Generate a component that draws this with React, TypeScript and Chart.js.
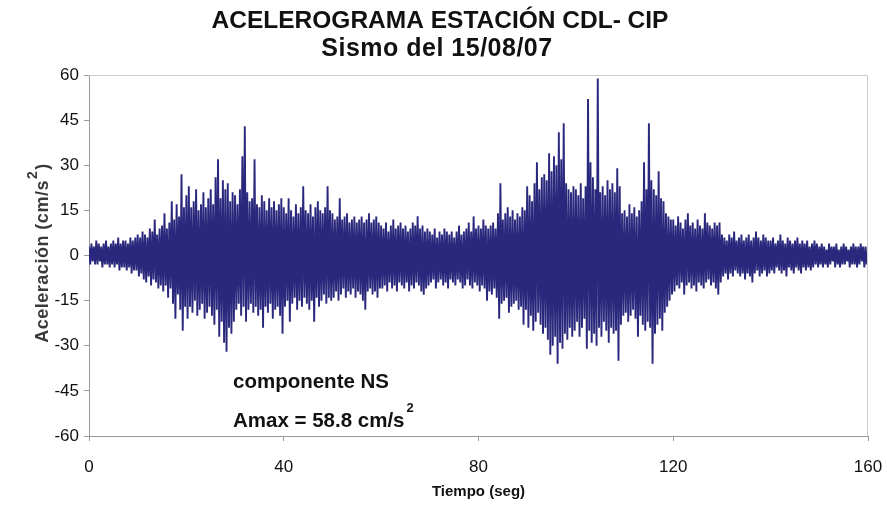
import { useEffect, useRef } from "react";
import { Chart, registerables } from "chart.js";

Chart.register(...registerables);

const TITLE = "ACELEROGRAMA ESTACIÓN CDL- CIP";
const SUBTITLE = "Sismo del 15/08/07";
const Y_TITLE = "Aceleración (cm/s";
const Y_TITLE_END = ")";
const X_TITLE = "Tiempo (seg)";
const NOTE_COMPONENT = "componente NS";
const NOTE_AMAX = "Amax = 58.8 cm/s";
const SQUARED = "2";

const X_MIN = 0;
const X_MAX = 160;
const X_STEP = 40;
const Y_MIN = -60;
const Y_MAX = 60;
const Y_STEP = 15;

// Seconds between successive positive peaks; each negative peak sits halfway between.
const PEAK_SPACING = 0.5;

// Positive acceleration peaks (cm/s²), one every 0.5 s from t = 0 s.
const POS_PEAKS = [
  3, 4, 3, 5, 4, 3, 4, 5, 3, 4, 5, 4, 6, 4, 5, 5, 4, 6, 5, 6,
  7, 6, 8, 7, 6, 9, 8, 12, 7, 9, 10, 14, 9, 11, 18, 12, 17, 13, 27, 16,
  20, 23, 16, 18, 22, 15, 17, 21, 16, 19, 22, 17, 26, 32, 19, 25, 22, 24, 18, 21,
  20, 17, 22, 33, 43, 21, 18, 19, 32, 17, 16, 20, 18, 15, 19, 16, 18, 15, 17, 19,
  16, 14, 19, 15, 13, 17, 14, 16, 23, 15, 14, 17, 13, 16, 18, 15, 14, 16, 23, 15,
  14, 12, 13, 19, 12, 13, 14, 11, 12, 13, 11, 12, 13, 11, 12, 14, 11, 12, 13, 11,
  10, 9, 11, 8, 10, 12, 9, 10, 11, 9, 10, 8, 9, 11, 10, 13, 9, 10, 8, 9,
  8, 7, 9, 6, 8, 7, 9, 8, 7, 8, 6, 8, 10, 7, 8, 9, 11, 8, 13, 9,
  10, 9, 12, 10, 9, 10, 11, 9, 14, 24, 12, 14, 16, 13, 15, 12, 14, 13, 16, 15,
  23, 20, 18, 24, 31, 22, 26, 27, 25, 34, 28, 33, 30, 41, 32, 44, 24, 22, 21, 23,
  22, 20, 24, 19, 23, 52, 31, 26, 22, 58.8, 21, 23, 20, 25, 22, 24, 21, 29, 23, 14,
  15, 13, 17, 14, 16, 13, 15, 18, 31, 22, 44, 25, 22, 20, 28, 19, 18, 14, 13, 12,
  12, 10, 13, 11, 9, 12, 14, 10, 11, 9, 12, 10, 9, 14, 11, 10, 9, 11, 10, 11,
  7, 6, 5, 7, 6, 8, 5, 6, 7, 5, 6, 7, 5, 6, 8, 6, 5, 7, 6, 5,
  5, 6, 4, 5, 7, 5, 4, 6, 5, 4, 5, 6, 4, 5, 4, 5, 3, 4, 5, 4,
  3, 4, 3, 2, 4, 3, 3, 4, 2, 3, 4, 3, 2, 3, 4, 3, 3, 4, 3, 3,
];

// Negative acceleration peaks (cm/s²), one every 0.5 s from t = 0.25 s.
const NEG_PEAKS = [
  -3, -2, -3, -3, -2, -4, -3, -3, -4, -3, -4, -3, -5, -4, -4, -5, -4, -6, -5, -5,
  -7, -6, -8, -9, -7, -10, -8, -9, -11, -10, -12, -10, -14, -11, -16, -21, -13, -18, -25, -17,
  -21, -17, -19, -15, -20, -18, -16, -21, -19, -17, -20, -23, -18, -27, -22, -29, -32, -24, -26, -22,
  -18, -16, -20, -17, -22, -18, -16, -19, -17, -20, -18, -24, -17, -19, -16, -21, -18, -17, -20, -26,
  -17, -15, -22, -16, -14, -18, -15, -17, -14, -16, -18, -15, -22, -14, -17, -15, -13, -16, -14, -15,
  -14, -12, -15, -13, -11, -14, -12, -13, -11, -14, -12, -13, -15, -18, -12, -11, -13, -12, -14, -11,
  -11, -10, -12, -9, -11, -10, -12, -9, -10, -11, -9, -12, -10, -11, -9, -10, -12, -13, -11, -10,
  -9, -8, -11, -9, -8, -10, -9, -11, -8, -9, -10, -8, -9, -11, -10, -8, -10, -11, -9, -10,
  -12, -10, -11, -15, -12, -13, -11, -14, -21, -16, -15, -14, -19, -17, -16, -15, -18, -17, -23, -18,
  -24, -20, -25, -22, -19, -23, -26, -24, -28, -33, -30, -27, -36, -29, -31, -26, -28, -24, -27, -25,
  -22, -27, -24, -21, -31, -25, -29, -26, -30, -24, -27, -22, -25, -29, -24, -26, -25, -35, -23, -20,
  -19, -22, -20, -18, -21, -27, -20, -23, -25, -22, -24, -36, -26, -23, -21, -25, -19, -17, -15, -13,
  -12, -10, -11, -9, -13, -10, -9, -11, -10, -12, -9, -10, -11, -9, -8, -10, -9, -11, -13, -9,
  -7, -6, -8, -6, -7, -5, -6, -7, -6, -8, -6, -7, -9, -6, -5, -7, -6, -5, -7, -6,
  -5, -6, -4, -5, -6, -5, -7, -4, -5, -6, -4, -5, -6, -4, -5, -4, -5, -4, -3, -4,
  -3, -4, -3, -4, -3, -2, -4, -3, -4, -3, -3, -2, -4, -3, -3, -4, -3, -2, -4, -3,
];

const FONT = "'Liberation Sans', Arial, Helvetica, sans-serif";
const TRACE_COLOR = "#2a287c";
const AXIS_COLOR = "#9a9a9a";
const FRAME_COLOR = "#cdcdcd";

function buildTrace() {
  const pts: { x: number; y: number }[] = [];
  POS_PEAKS.forEach((p, i) => {
    const t = i * PEAK_SPACING;
    pts.push({ x: t, y: p });
    pts.push({ x: t + PEAK_SPACING / 2, y: NEG_PEAKS[i] });
  });
  return pts;
}

const decorations = {
  id: "decorations",
  afterDraw(chart: any) {
    const { ctx, chartArea: a } = chart;
    ctx.save();

    // light frame on top and right of the plot area
    ctx.strokeStyle = FRAME_COLOR;
    ctx.lineWidth = 1;
    ctx.beginPath();
    ctx.moveTo(a.left, a.top + 0.5);
    ctx.lineTo(a.right - 0.5, a.top + 0.5);
    ctx.lineTo(a.right - 0.5, a.bottom);
    ctx.stroke();

    // titles
    ctx.fillStyle = "#111";
    ctx.textAlign = "center";
    ctx.textBaseline = "middle";
    ctx.font = `bold 24.5px ${FONT}`;
    ctx.fillText(TITLE, 440, 21);
    ctx.font = `bold 25px ${FONT}`;
    ctx.letterSpacing = "0.5px";
    ctx.fillText(SUBTITLE, 437, 49);
    ctx.letterSpacing = "0px";

    // x axis title
    ctx.font = `bold 15px ${FONT}`;
    ctx.fillText(X_TITLE, (a.left + a.right) / 2, 492);

    // y axis title with superscript
    ctx.save();
    ctx.translate(43, 254);
    ctx.rotate(-Math.PI / 2);
    ctx.fillStyle = "#3a3a3a";
    ctx.letterSpacing = "0.5px";
    const mainFont = `bold 18px ${FONT}`;
    const supFont = `bold 14px ${FONT}`;
    ctx.font = mainFont;
    const w1 = ctx.measureText(Y_TITLE).width;
    const w3 = ctx.measureText(Y_TITLE_END).width;
    ctx.font = supFont;
    const w2 = ctx.measureText(SQUARED).width;
    const x0 = -(w1 + w2 + w3) / 2;
    ctx.textAlign = "left";
    ctx.font = mainFont;
    ctx.fillText(Y_TITLE, x0, 0);
    ctx.font = supFont;
    ctx.fillText(SQUARED, x0 + w1 + 1, -10);
    ctx.font = mainFont;
    ctx.fillText(Y_TITLE_END, x0 + w1 + w2 + 2, 0);
    ctx.letterSpacing = "0px";
    ctx.restore();

    // notes inside the plot
    ctx.fillStyle = "#111";
    ctx.textAlign = "left";
    ctx.textBaseline = "alphabetic";
    ctx.font = `bold 20.5px ${FONT}`;
    ctx.fillText(NOTE_COMPONENT, 233, 388);
    ctx.fillText(NOTE_AMAX, 233, 427);
    const wA = ctx.measureText(NOTE_AMAX).width;
    ctx.font = `bold 13px ${FONT}`;
    ctx.fillText(SQUARED, 233 + wA + 2, 412);

    ctx.restore();
  },
};

export default function App() {
  const canvasRef = useRef<HTMLCanvasElement>(null);

  useEffect(() => {
    document.body.style.margin = "0";
    const canvas = canvasRef.current;
    if (!canvas) return;

    const chart = new Chart(canvas, {
      type: "line",
      data: {
        datasets: [
          {
            data: buildTrace(),
            borderColor: TRACE_COLOR,
            borderWidth: 1.9,
            pointRadius: 0,
            fill: false,
            tension: 0,
          },
        ],
      },
      options: {
        responsive: false,
        animation: false,
        events: [],
        layout: { padding: { top: 75, right: 19, left: 0, bottom: 0 } },
        plugins: {
          legend: { display: false },
          tooltip: { enabled: false },
          title: { display: false },
        },
        scales: {
          x: {
            type: "linear",
            min: X_MIN,
            max: X_MAX,
            afterFit: (s: any) => {
              s.height = 70;
              s.paddingLeft = 0;
              s.paddingRight = 0;
            },
            ticks: {
              stepSize: X_STEP,
              autoSkip: false,
              color: "#111",
              font: { family: FONT, size: 17 },
              padding: 16,
              maxRotation: 0,
            },
            grid: {
              display: true,
              drawOnChartArea: false,
              drawTicks: true,
              tickLength: 5,
              color: AXIS_COLOR,
            },
            border: { display: true, color: AXIS_COLOR },
          },
          y: {
            type: "linear",
            min: Y_MIN,
            max: Y_MAX,
            afterFit: (s: any) => {
              s.width = 89;
            },
            ticks: {
              stepSize: Y_STEP,
              autoSkip: false,
              color: "#111",
              font: { family: FONT, size: 17 },
              padding: 5,
            },
            grid: {
              display: true,
              drawOnChartArea: false,
              drawTicks: true,
              tickLength: 5,
              color: AXIS_COLOR,
            },
            border: { display: true, color: AXIS_COLOR },
          },
        },
      },
      plugins: [decorations],
    });

    return () => chart.destroy();
  }, []);

  return (
    <div style={{ width: 887, height: 506 }}>
      <canvas ref={canvasRef} width={887} height={506} style={{ display: "block" }} />
    </div>
  );
}
